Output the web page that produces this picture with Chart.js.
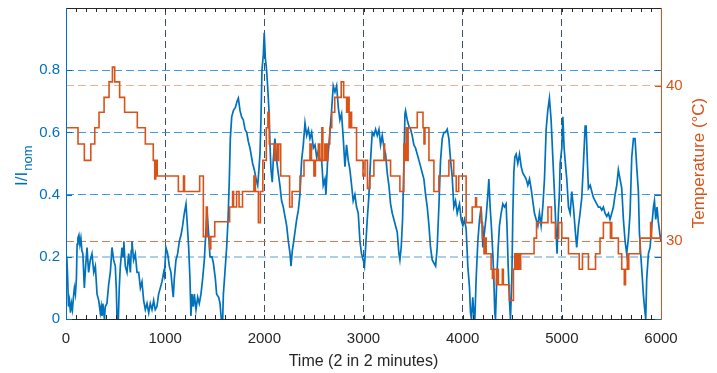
<!DOCTYPE html>
<html lang="en">
<head>
  <meta charset="UTF-8" />
  <title>Current and temperature</title>
  <script src="https://cdn.jsdelivr.net/npm/chart.js"></script>
  <style>
    body { margin: 0; background: #fff; }
    canvas { display: block; }
  </style>
</head>
<body>
  <canvas id="chart" width="717" height="373"></canvas>
  <script>
    // tick labels
    const xTicks = [0, 1000, 2000, 3000, 4000, 5000, 6000];
    const leftTicks = [0, 0.2, 0.4, 0.6, 0.8];
    const rightTicks = [30, 40];

    // I/I_nom
    const currentX = [0, 8, 17, 25, 35, 45, 55, 65, 75, 85, 95, 105, 112, 120, 130, 140, 150, 160, 170, 185,
      198, 212, 228, 245, 262, 280, 296, 313, 330, 346, 355, 363, 372, 380, 388, 396, 413, 430, 447, 464,
      480, 497, 507, 515, 528, 537, 548, 565, 575, 583, 598, 615, 632, 649, 658, 665, 682, 699, 716, 733,
      750, 766, 783, 800, 817, 834, 850, 867, 884, 900, 917, 934, 951, 968, 985, 992, 1008, 1025, 1042, 1058,
      1075, 1082, 1092, 1109, 1126, 1143, 1160, 1176, 1193, 1210, 1220, 1237, 1250, 1260, 1270, 1284, 1294, 1311, 1328, 1344,
      1361, 1378, 1395, 1412, 1422, 1439, 1452, 1472, 1486, 1506, 1519, 1540, 1553, 1566, 1580, 1587, 1607, 1620, 1634, 1647,
      1657, 1671, 1688, 1708, 1725, 1738, 1755, 1771, 1788, 1805, 1822, 1839, 1855, 1866, 1882, 1899, 1916, 1933, 1943, 1956,
      1966, 1976, 1990, 1999, 2010, 2023, 2033, 2047, 2057, 2067, 2080, 2090, 2107, 2124, 2140, 2157, 2174, 2191, 2208, 2225,
      2242, 2259, 2269, 2282, 2296, 2309, 2326, 2343, 2359, 2376, 2393, 2410, 2427, 2444, 2460, 2477, 2494, 2511, 2528, 2544,
      2561, 2578, 2594, 2611, 2621, 2638, 2661, 2678, 2695, 2712, 2729, 2746, 2762, 2779, 2796, 2813, 2829, 2846, 2863, 2880,
      2896, 2913, 2930, 2947, 2964, 2980, 2997, 3010, 3021, 3038, 3055, 3071, 3088, 3105, 3122, 3139, 3156, 3172, 3189, 3206,
      3223, 3239, 3256, 3273, 3290, 3307, 3323, 3340, 3357, 3367, 3380, 3394, 3408, 3418, 3424, 3441, 3458, 3475, 3491, 3508,
      3525, 3542, 3559, 3576, 3592, 3609, 3626, 3643, 3660, 3676, 3693, 3710, 3727, 3743, 3760, 3777, 3794, 3811, 3827, 3844,
      3861, 3878, 3894, 3911, 3928, 3945, 3960, 3968, 3985, 4002, 4018, 4035, 4052, 4069, 4079, 4089, 4102, 4112, 4123, 4136,
      4153, 4170, 4186, 4196, 4203, 4220, 4237, 4254, 4264, 4277, 4291, 4304, 4314, 4324, 4331, 4344, 4358, 4371, 4388, 4405,
      4421, 4438, 4448, 4459, 4472, 4482, 4496, 4506, 4516, 4526, 4539, 4556, 4573, 4590, 4606, 4623, 4640, 4657, 4674, 4690,
      4707, 4724, 4741, 4758, 4774, 4791, 4808, 4825, 4842, 4858, 4875, 4892, 4909, 4925, 4942, 4952, 4965, 4975, 4983, 5000,
      5010, 5023, 5033, 5050, 5067, 5084, 5100, 5117, 5134, 5150, 5168, 5184, 5201, 5218, 5235, 5245, 5258, 5268, 5286, 5302,
      5319, 5336, 5352, 5369, 5386, 5403, 5419, 5436, 5453, 5470, 5486, 5503, 5520, 5537, 5554, 5570, 5587, 5604, 5621, 5638,
      5654, 5671, 5688, 5705, 5722, 5738, 5755, 5772, 5782, 5795, 5806, 5822, 5833, 5846, 5856, 5873, 5890, 5907, 5924, 5934,
      5947, 5960, 5974, 5990, 6000];
    const currentY = [0.16, 0.2, 0.13, 0.04, 0.06, 0.02, 0.05, 0.03, 0.07, 0.1, 0.08, 0.13, 0.24, 0.26, 0.27, 0.24, 0.26, 0.22, 0.21, 0.1,
      0.17, 0.23, 0.15, 0.19, 0.21, 0.15, 0.17, 0.08, 0.06, 0.02, 0.04, 0.01, 0.05, 0.02, 0, 0.04, 0.05, 0.11, 0.15, 0.23,
      0.19, 0.17, 0.1, 0, 0, 0.1, 0.17, 0.23, 0.2, 0.25, 0.17, 0.15, 0.21, 0.15, 0.22, 0.25, 0.19, 0.21, 0.15, 0.15,
      0.1, 0.12, 0.06, 0.03, 0.05, 0.02, 0.05, 0.03, 0.06, 0.03, 0.04, 0.08, 0.1, 0.12, 0.15, 0.14, 0.23, 0.21, 0.17, 0.15,
      0.09, 0.07, 0.13, 0.19, 0.21, 0.25, 0.27, 0.3, 0.34, 0.37, 0.32, 0.23, 0.13, 0.01, 0.08, 0.04, 0.08, 0.03, 0.07, 0.05,
      0.08, 0.13, 0.19, 0.29, 0.35, 0.27, 0.2, 0.2, 0.18, 0.13, 0.08, 0.07, 0.05, 0, 0, 0.08, 0.17, 0.23, 0.32, 0.45,
      0.58, 0.65, 0.67, 0.68, 0.7, 0.71, 0.67, 0.65, 0.64, 0.61, 0.6, 0.57, 0.55, 0.53, 0.5, 0.48, 0.45, 0.43, 0.47, 0.53,
      0.64, 0.8, 0.85, 0.92, 0.84, 0.8, 0.75, 0.67, 0.56, 0.48, 0.44, 0.51, 0.58, 0.51, 0.47, 0.43, 0.38, 0.36, 0.33, 0.3,
      0.25, 0.21, 0.17, 0.22, 0.25, 0.28, 0.32, 0.35, 0.4, 0.51, 0.56, 0.63, 0.59, 0.61, 0.58, 0.6, 0.55, 0.56, 0.52, 0.54,
      0.51, 0.51, 0.43, 0.45, 0.4, 0.51, 0.6, 0.67, 0.75, 0.73, 0.75, 0.68, 0.64, 0.66, 0.58, 0.49, 0.56, 0.51, 0.48, 0.43,
      0.38, 0.4, 0.36, 0.34, 0.25, 0.21, 0.19, 0.17, 0.23, 0.32, 0.4, 0.51, 0.6, 0.59, 0.61, 0.59, 0.61, 0.56, 0.59, 0.55,
      0.53, 0.47, 0.43, 0.37, 0.34, 0.32, 0.3, 0.28, 0.21, 0.19, 0.23, 0.32, 0.51, 0.66, 0.67, 0.64, 0.62, 0.61, 0.59, 0.56,
      0.55, 0.53, 0.51, 0.49, 0.47, 0.45, 0.4, 0.36, 0.3, 0.23, 0.19, 0.18, 0.17, 0.23, 0.36, 0.51, 0.58, 0.6, 0.6, 0.61,
      0.58, 0.51, 0.46, 0.36, 0.38, 0.34, 0.36, 0.37, 0.32, 0.3, 0.32, 0.29, 0.17, 0.1, 0.02, 0, 0.07, 0.02, 0, 0.13,
      0.25, 0.32, 0.36, 0.3, 0.23, 0.28, 0.33, 0.4, 0.45, 0.36, 0.29, 0.21, 0.13, 0.02, 0, 0.13, 0.23, 0.3, 0.34, 0.37,
      0.36, 0.37, 0.29, 0.17, 0.06, 0, 0.13, 0.34, 0.47, 0.52, 0.53, 0.5, 0.53, 0.49, 0.47, 0.46, 0.45, 0.43, 0.45, 0.42,
      0.38, 0.34, 0.32, 0.3, 0.34, 0.3, 0.36, 0.45, 0.61, 0.67, 0.71, 0.64, 0.52, 0.41, 0.28, 0.21, 0.34, 0.4, 0.5, 0.55,
      0.65, 0.55, 0.51, 0.45, 0.36, 0.34, 0.41, 0.36, 0.29, 0.23, 0.3, 0.34, 0.39, 0.5, 0.62, 0.62, 0.5, 0.42, 0.43, 0.41,
      0.39, 0.38, 0.37, 0.36, 0.36, 0.35, 0.36, 0.34, 0.33, 0.34, 0.32, 0.34, 0.36, 0.4, 0.43, 0.48, 0.45, 0.42, 0.32, 0.25,
      0.21, 0.26, 0.34, 0.52, 0.58, 0.58, 0.49, 0.41, 0.28, 0.21, 0.16, 0.08, 0.04, 0, 0.13, 0.21, 0.23, 0.3, 0.36, 0.38,
      0.32, 0.36, 0.31, 0.27, 0.25];

    // Temperature (°C), value holds from each x until the next one
    const tempX = [0, 121, 185, 250, 290, 333, 384, 434, 468, 491, 541, 591, 719, 800, 880, 895, 905, 920, 1133, 1185,
      1195, 1348, 1385, 1415, 1425, 1448, 1460, 1500, 1650, 1680, 1690, 1720, 1745, 1780, 1895, 1910, 1940, 1960, 1985, 2020,
      2036, 2050, 2100, 2110, 2130, 2145, 2165, 2255, 2280, 2360, 2400, 2460, 2475, 2500, 2515, 2545, 2560, 2580, 2590, 2610,
      2625, 2640, 2660, 2680, 2710, 2775, 2800, 2830, 2840, 2855, 2870, 2880, 2930, 2995, 3015, 3040, 3065, 3105, 3206, 3213,
      3273, 3367, 3407, 3420, 3430, 3440, 3450, 3542, 3600, 3610, 3620, 3660, 3710, 3760, 3861, 3910, 3935, 3960, 4035, 4096,
      4130, 4140, 4186, 4200, 4215, 4225, 4237, 4287, 4300, 4315, 4340, 4350, 4360, 4400, 4410, 4472, 4512, 4525, 4540, 4555,
      4570, 4585, 4720, 4745, 4825, 4860, 4895, 4935, 4968, 5000, 5067, 5175, 5208, 5268, 5340, 5385, 5419, 5490, 5496, 5503,
      5570, 5604, 5630, 5642, 5660, 5668, 5675, 5789, 5895, 5905, 6000];
    const tempY = [37.3, 36.25, 35.2, 36.25, 37.3, 38.3, 39.25, 40.25, 41.2, 40.25, 39.25, 38.3, 37.3, 36.25, 35.2, 34.0, 35.2, 34.2, 33.2, 34.2,
      33.2, 34.2, 30.3, 32.2, 30.3, 29.5, 30.3, 31.25, 32.2, 33.2, 32.2, 33.2, 32.2, 33.2, 34.2, 33.2, 31.2, 33.2, 35.2, 37.3,
      38.3, 36.25, 35.2, 36.25, 35.2, 36.25, 34.2, 32.2, 33.2, 34.2, 35.2, 36.25, 35.2, 34.2, 35.2, 36.25, 35.2, 37.3, 35.2, 36.25,
      35.2, 36.25, 37.3, 38.3, 39.25, 40.25, 39.25, 38.3, 39.25, 37.3, 38.3, 37.3, 35.2, 34.2, 35.2, 33.4, 34.2, 35.2, 36.25, 35.2,
      34.2, 33.2, 36.25, 35.2, 37.3, 35.2, 37.3, 38.3, 37.3, 36.25, 37.3, 35.2, 33.2, 34.2, 35.2, 34.2, 33.2, 34.2, 31.2, 32.2,
      32.8, 32.2, 31.2, 30.2, 29.2, 30.2, 29.2, 28.2, 27.6, 28.2, 27.2, 28.2, 27.2, 28.2, 27.2, 26.2, 28.2, 29.2, 28.2, 29.2,
      28.2, 29.2, 30.2, 31.2, 31.2, 32.2, 31.2, 30.2, 31.2, 30.2, 29.2, 28.2, 29.2, 28.2, 29.2, 30.2, 31.2, 30.2, 31.2, 30.2,
      29.2, 28.2, 27.2, 28.2, 29.2, 28.2, 29.2, 30.2, 31.2, 30.2, 30.2];

    const BLUE = "#0072BD";
    const ORANGE = "#D95319";
    const DARK = "#262626";

    Chart.defaults.font.family = "'Liberation Sans', Arial, sans-serif";
    Chart.defaults.font.size = 15;

    // MATLAB-like frame: inward ticks, coloured side axes, axis titles
    const framePlugin = {
      id: "frame",
      afterDraw(chart) {
        const { ctx, chartArea: a, scales } = chart;
        ctx.save();
        ctx.lineWidth = 1;

        // minor ticks on bottom and top
        ctx.strokeStyle = DARK;
        ctx.beginPath();
        for (let v = 0; v <= 6000; v += 100) {
          const px = Math.round(scales.x.getPixelForValue(v)) + 0.5;
          ctx.moveTo(px, a.bottom); ctx.lineTo(px, a.bottom - 4);
          ctx.moveTo(px, a.top); ctx.lineTo(px, a.top + 4);
        }
        ctx.moveTo(a.left, a.top + 0.5); ctx.lineTo(a.right, a.top + 0.5);
        ctx.moveTo(a.left, a.bottom + 0.5); ctx.lineTo(a.right, a.bottom + 0.5);
        ctx.stroke();

        // left axis
        ctx.strokeStyle = BLUE;
        ctx.beginPath();
        ctx.moveTo(a.left + 0.5, a.top); ctx.lineTo(a.left + 0.5, a.bottom + 1);
        leftTicks.forEach(v => {
          const py = Math.round(scales.y.getPixelForValue(v)) + 0.5;
          ctx.moveTo(a.left, py); ctx.lineTo(a.left + 6, py);
          ctx.moveTo(a.right, py); ctx.lineTo(a.right - 6, py);
        });
        ctx.stroke();

        // right axis
        ctx.strokeStyle = ORANGE;
        ctx.beginPath();
        ctx.moveTo(a.right + 0.5, a.top); ctx.lineTo(a.right + 0.5, a.bottom + 1);
        rightTicks.forEach(v => {
          const py = Math.round(scales.y2.getPixelForValue(v)) + 0.5;
          ctx.moveTo(a.right, py); ctx.lineTo(a.right - 6, py);
        });
        ctx.stroke();

        // x title
        ctx.fillStyle = DARK;
        ctx.font = "16px 'Liberation Sans', Arial, sans-serif";
        ctx.textAlign = "center";
        ctx.textBaseline = "alphabetic";
        ctx.fillText("Time (2 in 2 minutes)", (a.left + a.right) / 2, 366);

        // left title I/I_nom
        ctx.save();
        ctx.translate(27, 186);
        ctx.rotate(-Math.PI / 2);
        ctx.fillStyle = BLUE;
        ctx.textAlign = "left";
        ctx.font = "17px 'Liberation Sans', Arial, sans-serif";
        ctx.fillText("I/I", 0, 0);
        const w = ctx.measureText("I/I").width;
        ctx.font = "13px 'Liberation Sans', Arial, sans-serif";
        ctx.fillText("nom", w + 1, 5);
        ctx.restore();

        // right title
        ctx.save();
        ctx.translate(704, 163);
        ctx.rotate(-Math.PI / 2);
        ctx.fillStyle = ORANGE;
        ctx.textAlign = "center";
        ctx.font = "17px 'Liberation Sans', Arial, sans-serif";
        ctx.fillText("Temperature (\u00B0C)", 0, 0);
        ctx.restore();

        ctx.restore();
      }
    };

    const noPad = s => { s.paddingTop = 0; s.paddingBottom = 0; };

    new Chart(document.getElementById("chart"), {
      type: "line",
      data: {
        datasets: [{
          label: "Temperature",
          data: tempX.map((x, i) => ({ x: x, y: tempY[i] })),
          yAxisID: "y2",
          borderColor: ORANGE,
          borderWidth: 1.6,
          stepped: true,
          pointRadius: 0,
          fill: false
        }, {
          label: "I/Inom",
          data: currentX.map((x, i) => ({ x: x, y: currentY[i] })),
          yAxisID: "y",
          borderColor: BLUE,
          borderWidth: 1.7,
          tension: 0,
          pointRadius: 0,
          fill: false
        }]
      },
      options: {
        responsive: false,
        animation: false,
        layout: { padding: { top: 8, left: 0, right: 0, bottom: 0 } },
        plugins: { legend: { display: false }, tooltip: { enabled: false } },
        scales: {
          x: {
            type: "linear",
            min: 0,
            max: 6000,
            afterBuildTicks: s => { s.ticks = xTicks.map(v => ({ value: v })); },
            afterFit: s => { s.height = 54; s.paddingLeft = 0; s.paddingRight = 0; },
            ticks: { color: DARK, padding: 11, maxRotation: 0, callback: v => String(v) },
            border: { display: false, dash: [7, 4] },
            grid: {
              drawTicks: false,
              lineWidth: 1,
              color: ["rgba(0,0,0,0)", "#3f5163", "#3f5163", "#3f5163", "#3f5163", "#3f5163", "rgba(0,0,0,0)"]
            }
          },
          y: {
            position: "left",
            min: 0,
            max: 1,
            afterBuildTicks: s => { s.ticks = leftTicks.map(v => ({ value: v })); },
            afterFit: s => { s.width = 66; noPad(s); },
            ticks: { color: BLUE, padding: 6, callback: v => String(v) },
            border: { display: false, dash: [8, 4] },
            grid: {
              drawTicks: false,
              lineWidth: [1, 2, 1, 1, 1],
              color: ["rgba(0,0,0,0)", "#a9cfea", "#3f9be0", "#3f9be0", "#3f9be0"]
            }
          },
          y2: {
            position: "right",
            min: 25,
            max: 45,
            afterBuildTicks: s => { s.ticks = rightTicks.map(v => ({ value: v })); },
            afterFit: s => { s.width = 56; noPad(s); },
            ticks: { color: ORANGE, padding: 5, callback: v => String(v) },
            border: { display: false, dash: [8, 4] },
            grid: {
              drawTicks: false,
              lineWidth: 1,
              color: ["#e07a4e", "#f7ae90"]
            }
          }
        }
      },
      plugins: [framePlugin]
    });
  </script>
</body>
</html>
